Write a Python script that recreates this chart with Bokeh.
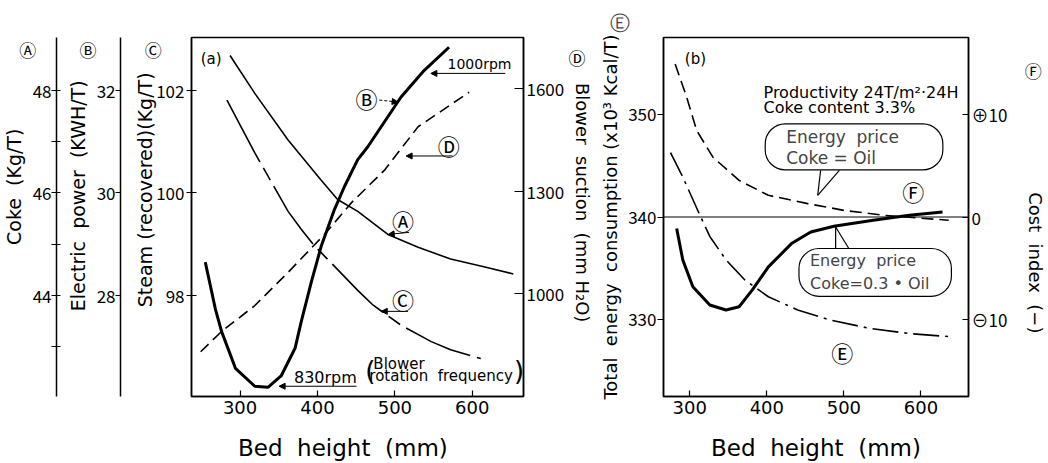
from bokeh.plotting import figure
from bokeh.models import Range1d, LinearAxis, FixedTicker, Label, Arrow, NormalHead, Span
from bokeh.layouts import row
from bokeh.embed import file_html
from bokeh.resources import INLINE

FONT = "DejaVu Sans"
CJK = "Noto Sans CJK JP"
NB = "\u00a0"
SP = "\u00a0 "

# ---------------- Panel (a) data ----------------
bed_A = [287, 319, 362, 404, 426, 452, 491, 530, 572, 615, 653]
coke_A = [48.68, 47.94, 47.03, 46.26, 45.87, 45.64, 45.19, 44.94, 44.71, 44.56, 44.42]
bed_B = [255, 268, 276, 294, 319, 336, 353, 371, 379, 392, 405, 422, 435, 452, 465, 508, 538, 570]
power_B = [28.65, 27.74, 27.30, 26.58, 26.23, 26.21, 26.43, 26.97, 27.49, 28.26, 28.97,
           29.68, 30.13, 30.65, 30.90, 31.87, 32.39, 32.84]
bed_C = [283, 319, 362, 379, 396, 418, 452, 472, 508, 547, 572, 611]
steam_C = [101.81, 100.78, 99.64, 99.29, 98.97, 98.63, 98.10, 97.81, 97.42, 97.10, 96.94, 96.77]
bed_D = [249, 276, 319, 362, 409, 444, 487, 530, 596]
suction_D = [831, 890, 966, 1063, 1174, 1267, 1363, 1489, 1590]

# ---------------- Panel (b) data ----------------
bed_F1 = [281, 296, 309, 330, 364, 402, 453, 500, 551, 636]
cost_F1 = [14.97, 11.71, 8.46, 5.85, 3.58, 2.12, 1.31, 0.65, 0.17, -0.32]
bed_F2 = [283, 291, 304, 326, 347, 364, 381, 402, 432, 457, 487, 538, 585, 628]
cost_F2 = [-1.13, -4.22, -6.83, -8.61, -9.10, -8.78, -7.15, -4.88, -2.60, -1.46, -0.91, -0.32, 0.17, 0.49]
bed_E = [275, 291, 313, 326, 347, 372, 402, 440, 483, 534, 585, 636]
energy_E = [346.3, 343.9, 340.2, 338.1, 335.8, 333.8, 332.2, 330.9, 329.9, 329.1, 328.6, 328.3]

x_ticks = [300, 400, 500, 600]
steam_ticks = [98, 100, 102]
power_ticks = [28, 30, 32]
coke_ticks = [44, 46, 48]
coke_all = [43, 44, 45, 46, 47, 48]
suction_ticks = [1000, 1300, 1600]
energy_ticks = [330, 340, 350]
cost_ticks = [-10, 0, 10]
cost_labels = {10: "\u229510", 0: "0", -10: "\u229610"}

# value on each axis where its circled letter sits
tag_coke, tag_power, tag_steam, tag_suction, tag_cost = 48.79, 32.79, 102.79, 1691, 14.31


def style_axis(ax, label_size="19px", tick_size="17px", tick_font=CJK):
    ax.axis_line_color = "black"
    ax.axis_line_width = 1.5
    ax.major_tick_line_color = "black"
    ax.major_tick_line_width = 1.2
    ax.minor_tick_line_color = None
    ax.minor_tick_line_width = 1.2
    ax.major_label_text_font = tick_font
    ax.major_label_text_font_size = tick_size
    ax.major_label_text_color = "black"
    ax.axis_label_text_font = FONT
    ax.axis_label_text_font_size = label_size
    ax.axis_label_text_font_style = "normal"
    ax.axis_label_text_color = "black"


def tagged(ax):
    # the real tick marks are drawn as minor ticks; major ticks only carry the labels
    ax.major_tick_line_color = None
    ax.minor_tick_line_color = "black"
    ax.major_tick_in = 0


def spacer(standoff):
    ax = LinearAxis(ticker=FixedTicker(ticks=[]), axis_line_color=None,
                    major_tick_out=0, major_tick_in=0, minor_tick_out=0, minor_tick_in=0,
                    major_label_standoff=0, axis_label=NB, axis_label_standoff=standoff,
                    axis_label_text_font_size="1px")
    ax.major_tick_line_color = None
    ax.minor_tick_line_color = None
    return ax


def txt(p, x, y, s, size="14px", font=FONT, align="left"):
    p.add_layout(Label(x=x, y=y, text=s, text_font=font, text_font_size=size,
                       text_align=align, text_baseline="middle", text_color="black"))


def arrow(p, x0, y0, x1, y1, dash="solid"):
    p.add_layout(Arrow(end=NormalHead(size=6, fill_color="black", line_color="black", line_width=1),
                       x_start=x0, y_start=y0, x_end=x1, y_end=y1,
                       line_width=1, line_color="black", line_dash=dash))


def base_fig(width, xr, yr, left, right, bottom, xlabel):
    p = figure(width=width, height=463, x_range=xr, y_range=yr,
               output_backend="svg", toolbar_location=None,
               min_border_left=left, min_border_right=right, min_border_top=37,
               min_border_bottom=bottom)
    p.xgrid.visible = False
    p.ygrid.visible = False
    p.outline_line_color = "black"
    p.outline_line_width = 1.5
    p.background_fill_color = "white"
    p.border_fill_color = "white"
    xa = p.xaxis[0]
    style_axis(xa, label_size="23px", tick_size="18px", tick_font=FONT)
    xa.ticker = FixedTicker(ticks=x_ticks)
    xa.major_tick_in = 6
    xa.major_tick_out = 0
    xa.major_label_standoff = 4
    xa.axis_label = xlabel
    xa.axis_label_standoff = 18
    return p


# ================= Figure (a) =================
p1 = base_fig(597, Range1d(237.2, 666.2), Range1d(96.03, 103.03), 189, 74, 64,
              "Bed" + SP + "height" + SP + "(mm)" + NB * 4)
p1.extra_y_ranges = {"coke": Range1d(42.03, 49.03), "power": Range1d(26.03, 33.03),
                     "suction": Range1d(700, 1750)}

ya = p1.yaxis[0]
style_axis(ya)
ya.ticker = FixedTicker(ticks=steam_ticks + [tag_steam], minor_ticks=steam_ticks)
ya.major_label_overrides = {tag_steam: "\u24b8" + NB * 6}
tagged(ya)
ya.major_tick_out = 5
ya.minor_tick_in = 5
ya.minor_tick_out = 5
ya.major_label_standoff = 2
ya.axis_label = NB * 9 + "Steam (recovered)(Kg/T)"
ya.axis_label_standoff = -14

p1.add_layout(spacer(6), "left")

ax_b = LinearAxis(y_range_name="power", ticker=FixedTicker(ticks=power_ticks + [tag_power], minor_ticks=power_ticks),
                  major_label_overrides={tag_power: "\u24b7" + NB * 5},
                  axis_label=NB * 7 + "Electric" + SP + "power" + SP + "(KWH/T)")
style_axis(ax_b)
tagged(ax_b)
ax_b.major_tick_out = 5
ax_b.minor_tick_in = 0
ax_b.minor_tick_out = 5
ax_b.major_label_standoff = 0
ax_b.axis_label_standoff = -13
p1.add_layout(ax_b, "left")

p1.add_layout(spacer(4), "left")

ax_a = LinearAxis(y_range_name="coke", ticker=FixedTicker(ticks=coke_ticks + [tag_coke], minor_ticks=coke_all),
                  major_label_overrides={tag_coke: "\u24b6" + NB * 4},
                  axis_label=NB * 10 + "Coke" + SP + "(Kg/T)")
style_axis(ax_a)
tagged(ax_a)
ax_a.major_tick_out = 5
ax_a.minor_tick_in = 4
ax_a.minor_tick_out = 5
ax_a.major_label_standoff = 0
ax_a.axis_label_standoff = -9
p1.add_layout(ax_a, "left")

ax_d = LinearAxis(y_range_name="suction", ticker=FixedTicker(ticks=suction_ticks + [tag_suction], minor_ticks=suction_ticks),
                  major_label_overrides={tag_suction: NB * 11 + "\u24b9"},
                  axis_label="Blower" + SP + "suction" + SP + "(mm H\u2082O)" + NB * 5)
style_axis(ax_d, label_size="18px")
tagged(ax_d)
ax_d.major_tick_out = 0
ax_d.minor_tick_in = 9
ax_d.minor_tick_out = 0
ax_d.major_label_standoff = 3
ax_d.axis_label_standoff = -16
p1.add_layout(ax_d, "right")

p1.line(bed_A, coke_A, y_range_name="coke", line_color="black", line_width=1.6)
p1.line(bed_B, power_B, y_range_name="power", line_color="black", line_width=3)
p1.line(bed_C, steam_C, line_color="black", line_width=1.6, line_dash="70 7 14 7")
p1.line(bed_D, suction_D, y_range_name="suction", line_color="black", line_width=1.6, line_dash="11 6")

txt(p1, 249, 102.62, "(a)", size="15px")
txt(p1, 568, 102.52, "1000rpm", size="14px")
arrow(p1, 642.7, 102.33, 546.5, 102.33)
txt(p1, 463.2, 101.85, "\u24b7", size="22px", font=CJK, align="center")
arrow(p1, 479.9, 101.81, 504.2, 101.77, dash="3 2")
txt(p1, 569.6, 100.94, "\u24b9", size="22px", font=CJK, align="center")
arrow(p1, 574.7, 100.72, 514.5, 100.72)
txt(p1, 510.6, 99.48, "\u24b6", size="22px", font=CJK, align="center")
arrow(p1, 518.3, 99.23, 491.4, 99.19)
txt(p1, 510.6, 97.94, "\u24b8", size="22px", font=CJK, align="center")
arrow(p1, 517.0, 97.69, 482.4, 97.69)
txt(p1, 369.6, 96.41, "830rpm", size="16px")
arrow(p1, 450.4, 96.23, 350.4, 96.23)
txt(p1, 461.8, 96.53, "(", size="26px")
txt(p1, 472.2, 96.67, "Blower", size="15px")
txt(p1, 467.0, 96.42, "rotation" + SP + "frequency", size="15px")
txt(p1, 654.0, 96.53, ")", size="26px")

# ================= Figure (b) =================
p2 = base_fig(451, Range1d(265.9, 661.7), Range1d(322.44, 357.56), 66, 75, 66,
              "Bed" + SP + "height" + SP + "(mm)")
p2.extra_y_ranges = {"cost": Range1d(-17.56, 17.56)}

p2.title.text = "\u24ba"
p2.title.align = "left"
p2.title.offset = -54
p2.title.standoff = 6
p2.title.text_font = FONT
p2.title.text_font_size = "20px"
p2.title.text_font_style = "normal"

ye = p2.yaxis[0]
style_axis(ye, label_size="18px")
ye.ticker = FixedTicker(ticks=energy_ticks)
ye.major_tick_in = 0
ye.major_tick_out = 6
ye.major_label_standoff = 1
ye.axis_label = "Total" + SP + "energy" + SP + "consumption (x10\u00b3 Kcal/T)"
ye.axis_label_standoff = 4

ax_f = LinearAxis(y_range_name="cost", ticker=FixedTicker(ticks=cost_ticks + [tag_cost], minor_ticks=cost_ticks),
                  major_label_overrides={**cost_labels, tag_cost: NB * 14 + "\u24bb"},
                  axis_label=NB * 16 + "Cost" + SP + "index" + SP + "(\u2212)")
style_axis(ax_f, label_size="18px")
tagged(ax_f)
ax_f.major_tick_out = 0
ax_f.minor_tick_in = 6
ax_f.minor_tick_out = 0
ax_f.major_label_standoff = 3
ax_f.axis_label_standoff = -20
p2.add_layout(ax_f, "right")

p2.add_layout(Span(location=340, dimension="width", line_color="black", line_width=1))
p2.line(bed_F1, cost_F1, y_range_name="cost", line_color="black", line_width=1.6, line_dash="12 6")
p2.line(bed_F2, cost_F2, y_range_name="cost", line_color="black", line_width=3)
p2.line(bed_E, energy_E, line_color="black", line_width=1.6, line_dash="26 6 3 6")

txt(p2, 293.6, 355.48, "(b)", size="15px")
txt(p2, 395.7, 352.17, "Productivity 24T/m\u00b2\u00b724H", size="16px")
txt(p2, 395.7, 350.70, "Coke content 3.3%", size="16px")

p2.add_layout(Label(x=397.9, y=349.11, text="Energy" + SP + "price\nCoke = Oil", text_font=FONT,
                    text_font_size="17px", text_align="left", text_baseline="top", text_line_height=1.05,
                    border_line_color="black", border_line_width=1.2, background_fill_color="white",
                    border_radius=20, padding=dict(left=21, right=44, top=3, bottom=2)))
p2.multi_line([[469.8, 466.0], [494.1, 466.0]], [[344.56, 342.12], [344.56, 342.12]],
              line_color="black", line_width=1.2)

p2.add_layout(Label(x=441.7, y=336.92, text="Energy" + SP + "price\nCoke=0.3 \u2022 Oil", text_font=FONT,
                    text_font_size="16px", text_align="left", text_baseline="top", text_line_height=1.2,
                    border_line_color="black", border_line_width=1.2, background_fill_color="white",
                    border_radius=20, padding=dict(left=11, right=22, top=3, bottom=3)))
p2.multi_line([[489.3, 489.3], [506.4, 489.3]], [[336.92, 339.02], [336.92, 339.02]],
              line_color="black", line_width=1.2)

txt(p2, 590.0, 342.5, "\u24bb", size="22px", font=CJK, align="center")
txt(p2, 497.9, 326.8, "\u24ba", size="22px", font=CJK, align="center")

layout = row(p1, p2)
open("out.html", "w").write(file_html(layout, INLINE))
